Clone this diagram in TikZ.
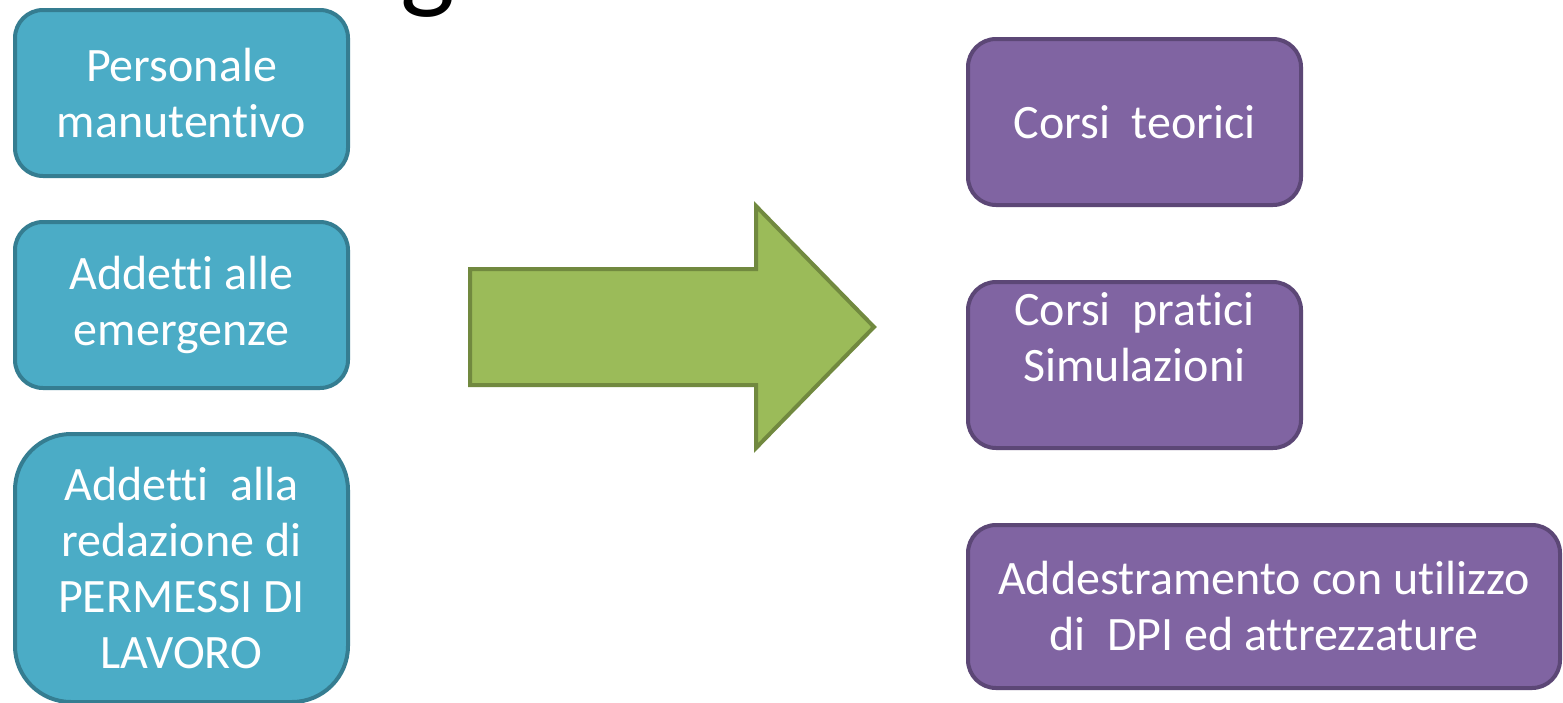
\documentclass[tikz,border=0pt]{standalone}
\usepackage{fontspec}
\setmainfont{Carlito}[Ligatures={NoCommon,NoContextual}]
\definecolor{bluefill}{HTML}{4BACC6}
\definecolor{blueline}{HTML}{357D91}
\definecolor{purfill}{HTML}{8064A2}
\definecolor{purline}{HTML}{5C4776}
\definecolor{grfill}{HTML}{9BBB59}
\definecolor{grline}{HTML}{71893F}
\tikzset{
  box/.style={draw, line width=2pt, text=white, align=center,
    font=\fontsize{24}{28}\selectfont, inner sep=0pt},
  bluebox/.style={box, fill=bluefill, draw=blueline, rounded corners=14pt,
    minimum width=166.5pt, minimum height=83pt},
  purbox/.style={box, fill=purfill, draw=purline, rounded corners=14pt,
    minimum width=166.5pt, minimum height=83pt},
  bigarrow/.style={fill=grfill, draw=grline, line width=2pt},
}
\begin{document}
\begin{tikzpicture}[x=0.5pt,y=-0.5pt]
\useasboundingbox[fill=white] (0,0) rectangle (1563,702);
\node[anchor=base, font=\fontsize{58}{60}\selectfont] (title) at (428,-3) {g};
\node[bluebox] (p1) at (181.5,93) {Personale\\manutentivo};
\node[bluebox] (p2) at (181.5,305) {Addetti alle\\emergenze};
\node[bluebox, minimum height=134pt, rounded corners=28pt] (p3) at (181.5,568)
  {Addetti~~alla\\redazione di\\PERMESSI DI\\LAVORO};
\node[purbox] (c1) at (1134.5,122) {Corsi~~teorici};
\node[purbox] (c2) at (1134.5,365) {Corsi~~pratici\\Simulazioni\\~};
\node[purbox, minimum width=296pt, minimum height=81.5pt] (c3) at (1264,606.5)
  {Addestramento con utilizzo\\di~~DPI ed attrezzature};
\draw[bigarrow] (470,269) -- (756,269) -- (756,206) -- (874,327)
  -- (756,448) -- (756,385) -- (470,385) -- cycle;
\end{tikzpicture}
\end{document}
